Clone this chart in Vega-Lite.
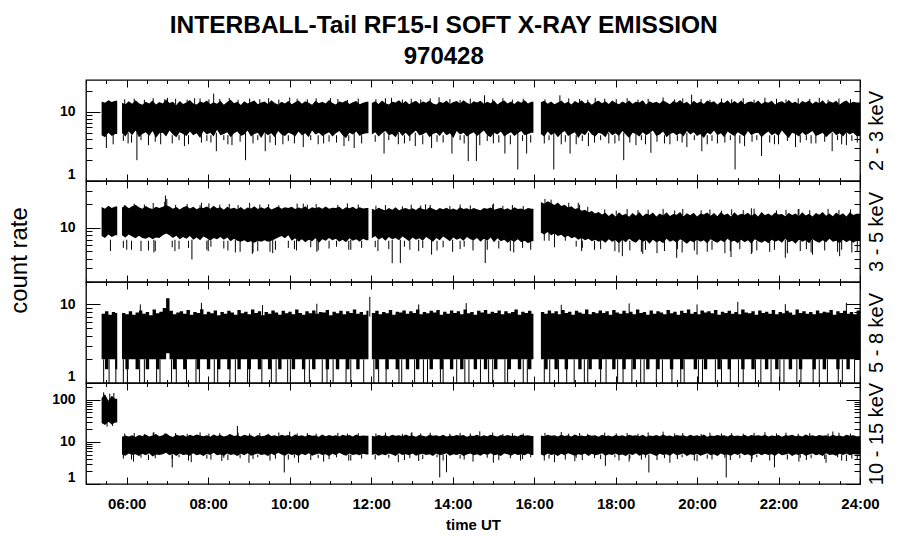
{
"$schema":"https://vega.github.io/schema/vega-lite/v6.json",
"padding":{"left":6,"top":13,"right":10,"bottom":10},
"title":{"text":"INTERBALL-Tail RF15-I SOFT X-RAY EMISSION","subtitle":"970428","font":"Liberation Sans","fontSize":24.5,"fontWeight":"bold","color":"black","subtitleFont":"Liberation Sans","subtitleFontSize":24,"subtitleFontWeight":"bold","subtitleColor":"black","subtitlePadding":6,"anchor":"middle","offset":9,"dx":-3},
"config":{"font":"Liberation Sans","view":{"stroke":"black","strokeWidth":1.3},"axis":{"domain":false,"grid":false,"tickColor":"black","tickWidth":1,"labelColor":"black","titleColor":"black","labelFont":"Liberation Sans","titleFont":"Liberation Sans"}},
"datasets":{
"band":[
{"m":323,"s":0,"a":4.6,"A":14.2,"b":7.8,"B":18.5,"c":2,"C":7.6,"d":28,"D":110},
{"m":328,"s":0,"a":4.3,"A":13.6,"b":7.4,"B":17.6,"c":1.5,"C":8.2,"d":25,"D":135},
{"m":333,"s":0,"a":5.0,"A":14.8,"b":8.2,"B":19.2,"c":2,"C":7.4,"d":30,"D":95},
{"m":338,"s":0,"a":4.5,"A":13.9,"b":7.6,"B":18.0,"c":2,"C":8.0,"d":26,"D":125},
{"m":343,"s":0,"a":4.8,"A":14.5,"b":8.0,"B":18.8,"c":1.5,"C":7.8,"d":29,"D":105},
{"m":346,"s":0,"a":4.8,"A":14.5,"b":8.0,"B":18.8,"c":1.5,"C":7.8,"d":29,"D":105},
{"m":353,"s":1,"a":4.9,"A":13.6,"b":8.0,"B":18.2,"c":2,"C":7.8,"d":5.0,"D":13.2},
{"m":358,"s":1,"a":4.4,"A":12.9,"b":7.5,"B":19.4,"c":1.5,"C":7.5,"d":4.7,"D":14.1},
{"m":363,"s":1,"a":5.2,"A":14.3,"b":8.2,"B":17.8,"c":2,"C":8.2,"d":5.3,"D":13.5},
{"m":368,"s":1,"a":4.6,"A":13.1,"b":7.7,"B":18.9,"c":2,"C":7.4,"d":4.9,"D":14.4},
{"m":373,"s":1,"a":5.4,"A":14.8,"b":7.3,"B":19.8,"c":1.5,"C":7.9,"d":5.1,"D":13.0},
{"m":378,"s":1,"a":4.3,"A":13.4,"b":7.9,"B":18.4,"c":2,"C":8.4,"d":4.6,"D":14.6},
{"m":383,"s":1,"a":4.8,"A":12.7,"b":7.4,"B":17.6,"c":2,"C":7.6,"d":5.2,"D":13.8},
{"m":388,"s":1,"a":5.1,"A":14.0,"b":7.2,"B":19.1,"c":1.5,"C":8.0,"d":4.8,"D":14.9},
{"m":393,"s":1,"a":4.5,"A":13.3,"b":7.6,"B":18.0,"c":2,"C":7.3,"d":5.4,"D":13.4},
{"m":398,"s":1,"a":5.3,"A":14.6,"b":7.1,"B":17.4,"c":2,"C":8.6,"d":4.5,"D":14.2},
{"m":403,"s":1,"a":4.2,"A":12.8,"b":7.5,"B":18.7,"c":1.5,"C":7.7,"d":5.0,"D":15.3},
{"m":408,"s":1,"a":4.9,"A":13.9,"b":7.4,"B":17.9,"c":2,"C":8.1,"d":4.9,"D":13.6},
{"m":413,"s":1,"a":5.0,"A":13.2,"b":8.0,"B":18.6,"c":2,"C":9.0,"d":5.1,"D":14.3},
{"m":418,"s":1,"a":4.4,"A":15.2,"b":8.4,"B":19.5,"c":2.4,"C":12.0,"d":5.5,"D":16.0},
{"m":423,"s":1,"a":5.4,"A":13.5,"b":8.0,"B":18.8,"c":2,"C":8.3,"d":4.8,"D":14.0},
{"m":428,"s":1,"a":4.7,"A":14.1,"b":7.4,"B":17.6,"c":1.5,"C":7.5,"d":5.2,"D":13.1},
{"m":433,"s":1,"a":4.3,"A":12.6,"b":7.9,"B":18.5,"c":2,"C":7.9,"d":4.6,"D":14.7},
{"m":438,"s":1,"a":5.1,"A":14.4,"b":7.1,"B":17.2,"c":2,"C":8.2,"d":5.3,"D":13.9},
{"m":443,"s":1,"a":4.8,"A":13.0,"b":7.6,"B":18.3,"c":1.5,"C":7.6,"d":4.9,"D":14.5},
{"m":448,"s":1,"a":4.5,"A":13.7,"b":7.2,"B":19.0,"c":2,"C":8.5,"d":5.0,"D":13.3},
{"m":453,"s":1,"a":5.2,"A":14.9,"b":7.8,"B":17.7,"c":2,"C":7.4,"d":4.7,"D":14.8},
{"m":458,"s":1,"a":4.6,"A":13.3,"b":7.0,"B":18.6,"c":2,"C":8.0,"d":5.4,"D":13.7},
{"m":463,"s":1,"a":4.9,"A":12.8,"b":7.5,"B":17.3,"c":1.5,"C":7.8,"d":4.8,"D":15.0},
{"m":468,"s":1,"a":4.2,"A":14.2,"b":6.9,"B":18.2,"c":2,"C":8.7,"d":5.1,"D":14.1},
{"m":473,"s":1,"a":5.3,"A":13.6,"b":7.7,"B":17.9,"c":2,"C":7.5,"d":4.6,"D":13.6},
{"m":478,"s":1,"a":4.7,"A":14.7,"b":7.3,"B":18.8,"c":1.5,"C":8.1,"d":5.2,"D":14.4},
{"m":483,"s":1,"a":5.0,"A":12.9,"b":6.8,"B":17.5,"c":2,"C":7.7,"d":4.9,"D":13.2},
{"m":488,"s":1,"a":4.4,"A":13.8,"b":7.4,"B":19.2,"c":2,"C":8.4,"d":5.5,"D":14.9},
{"m":493,"s":1,"a":5.5,"A":13.1,"b":7.1,"B":17.8,"c":1.5,"C":7.3,"d":4.8,"D":13.8},
{"m":498,"s":1,"a":4.6,"A":14.5,"b":7.6,"B":18.4,"c":2,"C":8.0,"d":5.0,"D":14.5},
{"m":503,"s":1,"a":4.8,"A":12.7,"b":7.0,"B":17.1,"c":2,"C":7.6,"d":4.7,"D":13.4},
{"m":508,"s":1,"a":5.1,"A":13.9,"b":7.5,"B":18.7,"c":1.5,"C":8.3,"d":5.3,"D":14.2},
{"m":513,"s":1,"a":4.3,"A":15.0,"b":6.7,"B":17.6,"c":2,"C":7.9,"d":4.9,"D":15.2},
{"m":518,"s":1,"a":4.9,"A":13.4,"b":7.2,"B":18.1,"c":2,"C":7.4,"d":5.1,"D":13.7},
{"m":523,"s":1,"a":5.2,"A":14.1,"b":6.8,"B":17.3,"c":1.5,"C":8.5,"d":4.6,"D":14.3},
{"m":528,"s":1,"a":4.5,"A":12.6,"b":6.6,"B":18.5,"c":2,"C":7.7,"d":5.2,"D":13.5},
{"m":533,"s":1,"a":4.7,"A":14.3,"b":6.9,"B":17.0,"c":2,"C":8.1,"d":4.8,"D":14.8},
{"m":538,"s":1,"a":5.4,"A":13.2,"b":6.5,"B":18.2,"c":1.5,"C":7.5,"d":5.4,"D":13.9},
{"m":543,"s":1,"a":4.4,"A":13.9,"b":6.7,"B":17.7,"c":2,"C":8.6,"d":4.7,"D":14.4},
{"m":548,"s":1,"a":4.8,"A":14.6,"b":6.4,"B":18.9,"c":2,"C":7.8,"d":5.0,"D":13.1},
{"m":553,"s":1,"a":5.0,"A":12.9,"b":6.8,"B":17.4,"c":1.5,"C":8.2,"d":5.3,"D":14.6},
{"m":558,"s":1,"a":4.2,"A":13.7,"b":6.6,"B":18.3,"c":2,"C":7.3,"d":4.9,"D":13.6},
{"m":563,"s":1,"a":5.1,"A":14.2,"b":6.9,"B":17.6,"c":2,"C":8.0,"d":5.1,"D":14.0},
{"m":568,"s":1,"a":4.6,"A":13.0,"b":6.6,"B":18.6,"c":1.5,"C":7.6,"d":4.6,"D":15.1},
{"m":573,"s":1,"a":4.9,"A":14.8,"b":6.8,"B":17.2,"c":2,"C":8.4,"d":5.2,"D":13.8},
{"m":578,"s":1,"a":4.3,"A":13.5,"b":7.1,"B":18.0,"c":2,"C":7.9,"d":4.8,"D":14.3},
{"m":583,"s":1,"a":5.3,"A":12.8,"b":7.5,"B":18.8,"c":1.5,"C":7.4,"d":5.5,"D":13.4},
{"m":588,"s":1,"a":4.7,"A":14.0,"b":7.8,"B":17.5,"c":2,"C":8.3,"d":5.0,"D":14.7},
{"m":593,"s":1,"a":4.5,"A":13.3,"b":7.3,"B":18.4,"c":2,"C":7.7,"d":4.7,"D":13.9},
{"m":598,"s":1,"a":5.0,"A":14.4,"b":8.0,"B":17.9,"c":2,"C":8.1,"d":5.3,"D":14.5},
{"m":603,"s":1,"a":4.8,"A":12.9,"b":6.8,"B":18.6,"c":1.5,"C":7.5,"d":4.9,"D":13.2},
{"m":608,"s":1,"a":4.4,"A":13.8,"b":7.3,"B":17.4,"c":2,"C":8.6,"d":5.1,"D":14.9},
{"m":613,"s":1,"a":5.2,"A":14.7,"b":6.6,"B":18.2,"c":2,"C":7.8,"d":4.6,"D":13.7},
{"m":618,"s":1,"a":4.6,"A":13.1,"b":7.1,"B":17.7,"c":1.5,"C":7.4,"d":5.2,"D":14.4},
{"m":623,"s":1,"a":4.9,"A":14.3,"b":6.5,"B":18.9,"c":2,"C":8.2,"d":4.8,"D":13.5},
{"m":628,"s":1,"a":4.3,"A":13.6,"b":7.0,"B":17.3,"c":2,"C":7.7,"d":5.4,"D":14.8},
{"m":633,"s":1,"a":5.4,"A":12.7,"b":6.7,"B":18.3,"c":1.5,"C":8.4,"d":4.7,"D":13.9},
{"m":638,"s":1,"a":4.7,"A":14.5,"b":7.3,"B":17.8,"c":2,"C":7.6,"d":5.0,"D":14.2},
{"m":643,"s":1,"a":5.0,"A":13.4,"b":6.4,"B":18.5,"c":2,"C":8.0,"d":5.3,"D":13.3},
{"m":648,"s":1,"a":4.5,"A":14.0,"b":7.1,"B":17.5,"c":2,"C":7.9,"d":4.9,"D":15.0},
{"m":653,"s":1,"a":4.8,"A":13.2,"b":6.8,"B":18.8,"c":1.5,"C":8.5,"d":5.1,"D":13.6},
{"m":658,"s":1,"a":5.1,"A":14.9,"b":7.4,"B":17.6,"c":2,"C":7.3,"d":4.6,"D":14.6},
{"m":663,"s":1,"a":4.4,"A":13.5,"b":6.9,"B":18.1,"c":2,"C":8.1,"d":5.2,"D":13.8},
{"m":668,"s":1,"a":4.9,"A":12.8,"b":7.2,"B":17.9,"c":1.5,"C":7.7,"d":4.8,"D":14.3},
{"m":673,"s":1,"a":5.3,"A":14.2,"b":6.6,"B":18.7,"c":2,"C":8.3,"d":5.5,"D":13.4},
{"m":678,"s":1,"a":4.6,"A":13.7,"b":7.0,"B":17.2,"c":2,"C":7.5,"d":5.0,"D":14.7},
{"m":683,"s":1,"a":4.2,"A":14.6,"b":6.5,"B":18.4,"c":1.5,"C":8.2,"d":4.7,"D":13.9},
{"m":688,"s":1,"a":5.0,"A":13.0,"b":7.3,"B":17.8,"c":2,"C":7.8,"d":5.3,"D":14.5},
{"m":693,"s":1,"a":4.7,"A":13.8,"b":6.8,"B":18.6,"c":2,"C":8.6,"d":4.9,"D":13.5},
{"m":698,"s":1,"a":5.2,"A":14.4,"b":7.1,"B":17.4,"c":1.5,"C":7.6,"d":5.1,"D":14.9},
{"m":703,"s":1,"a":4.5,"A":12.9,"b":6.6,"B":18.3,"c":2,"C":8.0,"d":4.8,"D":13.7},
{"m":708,"s":1,"a":4.8,"A":13.6,"b":7.2,"B":17.7,"c":2,"C":7.4,"d":5.2,"D":14.2},
{"m":713,"s":1,"a":4.9,"A":14.1,"b":6.9,"B":18.0,"c":2,"C":8.3,"d":5.0,"D":13.9},
{"m":716,"s":1,"a":4.9,"A":14.1,"b":6.9,"B":18.0,"c":2,"C":8.3,"d":5.0,"D":13.9},
{"m":721,"s":2,"a":4.7,"A":13.5,"b":7.3,"B":17.6,"c":2,"C":7.8,"d":4.9,"D":14.0},
{"m":726,"s":2,"a":5.1,"A":14.3,"b":7.8,"B":16.9,"c":1.5,"C":8.3,"d":5.2,"D":13.4},
{"m":731,"s":2,"a":4.4,"A":13.0,"b":7.0,"B":18.1,"c":2,"C":7.5,"d":4.7,"D":14.6},
{"m":736,"s":2,"a":4.9,"A":14.6,"b":7.5,"B":17.3,"c":2,"C":8.0,"d":5.1,"D":13.8},
{"m":741,"s":2,"a":5.3,"A":13.4,"b":6.8,"B":16.7,"c":1.5,"C":7.7,"d":4.8,"D":14.3},
{"m":746,"s":2,"a":4.6,"A":12.8,"b":7.6,"B":17.9,"c":2,"C":8.5,"d":5.3,"D":13.5},
{"m":751,"s":2,"a":4.8,"A":14.0,"b":7.1,"B":17.1,"c":2,"C":7.4,"d":5.0,"D":14.8},
{"m":756,"s":2,"a":4.3,"A":13.7,"b":7.4,"B":18.3,"c":1.5,"C":8.1,"d":4.6,"D":13.9},
{"m":761,"s":2,"a":5.2,"A":14.8,"b":6.9,"B":16.8,"c":2,"C":7.9,"d":5.4,"D":14.4},
{"m":766,"s":2,"a":4.5,"A":13.2,"b":7.7,"B":17.5,"c":2,"C":8.4,"d":4.9,"D":13.6},
{"m":771,"s":2,"a":5.0,"A":14.4,"b":7.2,"B":18.0,"c":1.5,"C":7.6,"d":5.1,"D":14.9},
{"m":776,"s":2,"a":4.4,"A":12.9,"b":6.7,"B":17.2,"c":2,"C":8.2,"d":4.8,"D":13.7},
{"m":781,"s":2,"a":4.9,"A":13.8,"b":7.5,"B":17.8,"c":2,"C":7.8,"d":5.3,"D":14.2},
{"m":786,"s":2,"a":5.4,"A":14.5,"b":7.0,"B":16.9,"c":1.5,"C":8.6,"d":4.7,"D":13.3},
{"m":791,"s":2,"a":4.6,"A":13.1,"b":7.3,"B":18.2,"c":2,"C":7.5,"d":5.0,"D":14.6},
{"m":796,"s":2,"a":4.7,"A":14.2,"b":6.8,"B":17.4,"c":2,"C":8.0,"d":5.2,"D":14.0},
{"m":801,"s":2,"a":5.1,"A":13.6,"b":7.6,"B":17.0,"c":2,"C":7.7,"d":4.9,"D":13.5},
{"m":806,"s":2,"a":4.3,"A":14.7,"b":7.1,"B":18.4,"c":1.5,"C":8.3,"d":5.1,"D":14.7},
{"m":811,"s":2,"a":4.8,"A":13.3,"b":6.6,"B":17.6,"c":2,"C":7.9,"d":4.6,"D":13.9},
{"m":816,"s":2,"a":5.0,"A":12.8,"b":7.4,"B":16.8,"c":2,"C":8.5,"d":5.3,"D":14.4},
{"m":821,"s":2,"a":4.5,"A":14.1,"b":6.9,"B":17.9,"c":1.5,"C":7.4,"d":4.8,"D":13.6},
{"m":826,"s":2,"a":5.2,"A":13.5,"b":7.7,"B":17.3,"c":2,"C":8.1,"d":5.0,"D":14.8},
{"m":831,"s":2,"a":4.6,"A":14.6,"b":7.2,"B":18.1,"c":2,"C":7.6,"d":5.4,"D":13.4},
{"m":836,"s":2,"a":4.9,"A":13.0,"b":6.7,"B":17.0,"c":1.5,"C":8.4,"d":4.7,"D":14.2},
{"m":841,"s":2,"a":4.2,"A":13.9,"b":7.5,"B":17.7,"c":2,"C":7.8,"d":5.1,"D":13.7},
{"m":846,"s":2,"a":5.3,"A":14.4,"b":7.0,"B":16.9,"c":2,"C":8.2,"d":4.9,"D":14.5},
{"m":851,"s":2,"a":4.7,"A":13.2,"b":7.3,"B":18.3,"c":1.5,"C":7.5,"d":5.2,"D":13.9},
{"m":856,"s":2,"a":5.0,"A":14.8,"b":6.8,"B":17.4,"c":2,"C":8.6,"d":4.6,"D":14.6},
{"m":861,"s":2,"a":4.4,"A":13.6,"b":7.6,"B":17.8,"c":2,"C":7.7,"d":5.0,"D":13.3},
{"m":866,"s":2,"a":4.8,"A":12.9,"b":7.1,"B":17.1,"c":2,"C":8.0,"d":5.3,"D":14.1},
{"m":871,"s":2,"a":5.1,"A":14.3,"b":6.9,"B":18.0,"c":1.5,"C":7.4,"d":4.8,"D":13.8},
{"m":876,"s":2,"a":4.5,"A":13.7,"b":7.4,"B":17.3,"c":2,"C":8.3,"d":5.1,"D":14.7},
{"m":881,"s":2,"a":4.9,"A":14.5,"b":6.6,"B":16.8,"c":2,"C":7.9,"d":4.7,"D":13.5},
{"m":886,"s":2,"a":5.4,"A":13.1,"b":7.2,"B":17.9,"c":1.5,"C":8.5,"d":5.2,"D":14.3},
{"m":891,"s":2,"a":4.6,"A":14.0,"b":6.8,"B":17.5,"c":2,"C":7.6,"d":4.9,"D":13.6},
{"m":896,"s":2,"a":4.3,"A":13.4,"b":7.5,"B":18.2,"c":2,"C":8.1,"d":5.4,"D":14.8},
{"m":901,"s":2,"a":5.0,"A":14.7,"b":6.5,"B":17.0,"c":1.5,"C":7.8,"d":4.8,"D":14.0},
{"m":906,"s":2,"a":4.7,"A":12.8,"b":7.3,"B":17.6,"c":2,"C":8.4,"d":5.0,"D":13.4},
{"m":911,"s":2,"a":5.2,"A":13.9,"b":6.7,"B":18.1,"c":2,"C":7.5,"d":4.6,"D":14.5},
{"m":916,"s":2,"a":4.4,"A":14.6,"b":7.0,"B":17.2,"c":2,"C":8.2,"d":5.3,"D":13.8},
{"m":921,"s":2,"a":4.8,"A":13.3,"b":6.4,"B":17.8,"c":1.5,"C":7.7,"d":5.1,"D":14.6},
{"m":926,"s":2,"a":5.1,"A":14.2,"b":6.9,"B":16.9,"c":2,"C":8.0,"d":4.7,"D":13.7},
{"m":931,"s":2,"a":4.5,"A":13.0,"b":6.6,"B":18.3,"c":2,"C":8.6,"d":5.2,"D":14.2},
{"m":936,"s":2,"a":4.9,"A":14.4,"b":7.1,"B":17.4,"c":1.5,"C":7.4,"d":4.9,"D":13.5},
{"m":941,"s":2,"a":5.3,"A":13.6,"b":6.5,"B":17.7,"c":2,"C":8.1,"d":5.0,"D":14.9},
{"m":946,"s":2,"a":4.6,"A":14.8,"b":6.8,"B":17.1,"c":2,"C":7.8,"d":4.8,"D":13.9},
{"m":951,"s":2,"a":4.8,"A":13.2,"b":6.3,"B":18.0,"c":1.5,"C":8.3,"d":5.3,"D":14.4},
{"m":956,"s":2,"a":5.0,"A":14.0,"b":6.7,"B":17.5,"c":2,"C":7.6,"d":4.9,"D":13.8},
{"m":959,"s":2,"a":5.0,"A":14.0,"b":6.7,"B":17.5,"c":2,"C":7.6,"d":4.9,"D":13.8},
{"m":970,"s":3,"a":4.8,"A":13.8,"b":8.6,"B":21.5,"c":2,"C":8.0,"d":5.0,"D":14.2},
{"m":975,"s":3,"a":4.4,"A":14.5,"b":8.2,"B":20.4,"c":1.5,"C":7.6,"d":4.7,"D":13.6},
{"m":980,"s":3,"a":5.2,"A":13.1,"b":8.8,"B":22.0,"c":2,"C":8.4,"d":5.3,"D":14.8},
{"m":985,"s":3,"a":4.6,"A":14.2,"b":8.0,"B":20.8,"c":2,"C":7.7,"d":4.9,"D":13.9},
{"m":990,"s":3,"a":5.0,"A":12.9,"b":8.4,"B":19.6,"c":1.5,"C":8.2,"d":5.1,"D":14.4},
{"m":995,"s":3,"a":4.3,"A":13.7,"b":7.8,"B":21.2,"c":2,"C":7.5,"d":4.6,"D":13.4},
{"m":1000,"s":3,"a":4.9,"A":14.6,"b":8.1,"B":19.0,"c":2,"C":8.5,"d":5.2,"D":14.7},
{"m":1005,"s":3,"a":5.3,"A":13.3,"b":7.5,"B":19.8,"c":1.5,"C":7.8,"d":4.8,"D":13.8},
{"m":1010,"s":3,"a":4.5,"A":14.0,"b":7.9,"B":18.2,"c":2,"C":8.1,"d":5.4,"D":14.3},
{"m":1015,"s":3,"a":4.8,"A":12.8,"b":7.3,"B":18.9,"c":2,"C":7.4,"d":5.0,"D":13.5},
{"m":1020,"s":3,"a":5.1,"A":14.4,"b":7.6,"B":17.4,"c":2,"C":8.3,"d":4.7,"D":14.9},
{"m":1025,"s":3,"a":4.2,"A":13.5,"b":7.0,"B":17.9,"c":1.5,"C":7.9,"d":5.1,"D":13.7},
{"m":1030,"s":3,"a":4.9,"A":14.8,"b":7.4,"B":16.6,"c":2,"C":7.6,"d":4.9,"D":14.1},
{"m":1035,"s":3,"a":4.6,"A":13.2,"b":6.9,"B":17.1,"c":2,"C":8.6,"d":5.3,"D":13.6},
{"m":1040,"s":3,"a":5.4,"A":14.1,"b":7.2,"B":15.8,"c":1.5,"C":7.5,"d":4.6,"D":14.6},
{"m":1045,"s":3,"a":4.7,"A":12.7,"b":6.7,"B":16.4,"c":2,"C":8.0,"d":5.2,"D":13.9},
{"m":1050,"s":3,"a":4.4,"A":13.9,"b":7.0,"B":15.2,"c":2,"C":7.7,"d":4.8,"D":14.4},
{"m":1055,"s":3,"a":5.0,"A":14.5,"b":6.6,"B":15.9,"c":1.5,"C":8.4,"d":5.0,"D":13.3},
{"m":1060,"s":3,"a":4.8,"A":13.4,"b":6.9,"B":14.8,"c":2,"C":7.8,"d":5.4,"D":14.8},
{"m":1065,"s":3,"a":4.3,"A":14.3,"b":6.4,"B":15.6,"c":2,"C":8.2,"d":4.7,"D":13.7},
{"m":1070,"s":3,"a":5.2,"A":13.0,"b":7.1,"B":14.2,"c":2,"C":7.4,"d":5.1,"D":14.2},
{"m":1075,"s":3,"a":4.6,"A":14.7,"b":6.6,"B":15.4,"c":1.5,"C":8.5,"d":4.9,"D":13.5},
{"m":1080,"s":3,"a":4.9,"A":13.6,"b":6.9,"B":14.0,"c":2,"C":7.9,"d":5.3,"D":14.6},
{"m":1085,"s":3,"a":4.5,"A":12.9,"b":6.3,"B":15.8,"c":2,"C":7.6,"d":4.8,"D":13.8},
{"m":1090,"s":3,"a":5.3,"A":14.2,"b":7.0,"B":14.5,"c":1.5,"C":8.3,"d":5.0,"D":14.3},
{"m":1095,"s":3,"a":4.7,"A":13.4,"b":6.5,"B":15.1,"c":2,"C":7.7,"d":4.6,"D":13.4},
{"m":1100,"s":3,"a":4.2,"A":14.6,"b":7.2,"B":13.9,"c":2,"C":8.1,"d":5.2,"D":14.8},
{"m":1105,"s":3,"a":5.0,"A":13.1,"b":6.7,"B":15.5,"c":1.5,"C":7.5,"d":4.9,"D":13.9},
{"m":1110,"s":3,"a":4.8,"A":14.0,"b":6.4,"B":14.3,"c":2,"C":8.6,"d":5.4,"D":14.4},
{"m":1115,"s":3,"a":4.4,"A":13.7,"b":7.1,"B":15.9,"c":2,"C":7.8,"d":4.7,"D":13.6},
{"m":1120,"s":3,"a":5.1,"A":14.8,"b":6.6,"B":14.1,"c":2,"C":8.0,"d":5.1,"D":14.7},
{"m":1125,"s":3,"a":4.6,"A":12.8,"b":6.9,"B":15.3,"c":1.5,"C":7.4,"d":4.8,"D":13.3},
{"m":1130,"s":3,"a":4.9,"A":14.3,"b":6.2,"B":14.6,"c":2,"C":8.4,"d":5.3,"D":14.1},
{"m":1135,"s":3,"a":5.4,"A":13.5,"b":7.0,"B":15.7,"c":2,"C":7.6,"d":5.0,"D":13.8},
{"m":1140,"s":3,"a":4.5,"A":14.1,"b":6.5,"B":14.0,"c":1.5,"C":8.2,"d":4.6,"D":14.5},
{"m":1145,"s":3,"a":4.7,"A":13.2,"b":6.8,"B":15.2,"c":2,"C":7.9,"d":5.2,"D":13.6},
{"m":1150,"s":3,"a":5.2,"A":14.6,"b":6.3,"B":14.4,"c":2,"C":7.5,"d":4.9,"D":14.9},
{"m":1155,"s":3,"a":4.3,"A":13.8,"b":7.2,"B":15.8,"c":2,"C":8.5,"d":5.1,"D":13.7},
{"m":1160,"s":3,"a":4.8,"A":12.9,"b":6.6,"B":14.2,"c":1.5,"C":7.7,"d":4.7,"D":14.2},
{"m":1165,"s":3,"a":5.0,"A":14.4,"b":6.9,"B":15.0,"c":2,"C":8.1,"d":5.4,"D":13.4},
{"m":1170,"s":3,"a":4.6,"A":13.6,"b":6.4,"B":14.7,"c":2,"C":7.4,"d":4.8,"D":14.6},
{"m":1175,"s":3,"a":4.9,"A":14.9,"b":7.1,"B":15.9,"c":1.5,"C":8.3,"d":5.0,"D":13.9},
{"m":1180,"s":3,"a":4.4,"A":13.3,"b":6.7,"B":14.1,"c":2,"C":7.8,"d":5.3,"D":14.3},
{"m":1185,"s":3,"a":5.3,"A":14.0,"b":6.2,"B":15.4,"c":2,"C":8.6,"d":4.6,"D":13.5},
{"m":1190,"s":3,"a":4.7,"A":12.7,"b":6.8,"B":14.5,"c":2,"C":7.6,"d":5.1,"D":14.8},
{"m":1195,"s":3,"a":5.1,"A":14.5,"b":6.5,"B":15.6,"c":1.5,"C":8.0,"d":4.9,"D":13.8},
{"m":1200,"s":3,"a":4.5,"A":13.4,"b":7.0,"B":14.0,"c":2,"C":7.5,"d":5.2,"D":14.4},
{"m":1205,"s":3,"a":4.8,"A":14.2,"b":6.6,"B":15.2,"c":2,"C":8.4,"d":4.7,"D":13.6},
{"m":1210,"s":3,"a":4.2,"A":13.0,"b":6.9,"B":14.8,"c":1.5,"C":7.9,"d":5.0,"D":14.9},
{"m":1215,"s":3,"a":5.0,"A":14.7,"b":6.3,"B":15.7,"c":2,"C":8.2,"d":5.4,"D":13.3},
{"m":1220,"s":3,"a":4.7,"A":13.7,"b":7.1,"B":14.3,"c":2,"C":7.7,"d":4.8,"D":14.1},
{"m":1225,"s":3,"a":5.4,"A":14.3,"b":6.7,"B":15.5,"c":2,"C":8.5,"d":5.1,"D":13.7},
{"m":1230,"s":3,"a":4.6,"A":12.8,"b":6.4,"B":14.1,"c":1.5,"C":7.4,"d":4.6,"D":14.6},
{"m":1235,"s":3,"a":4.9,"A":14.0,"b":6.9,"B":15.9,"c":2,"C":8.1,"d":5.3,"D":13.9},
{"m":1240,"s":3,"a":4.3,"A":13.5,"b":6.5,"B":14.6,"c":2,"C":7.8,"d":4.9,"D":14.4},
{"m":1245,"s":3,"a":5.2,"A":14.8,"b":7.2,"B":15.3,"c":1.5,"C":8.3,"d":5.0,"D":13.5},
{"m":1250,"s":3,"a":4.8,"A":13.1,"b":6.6,"B":14.0,"c":2,"C":7.6,"d":4.7,"D":14.8},
{"m":1255,"s":3,"a":4.5,"A":14.4,"b":6.8,"B":15.8,"c":2,"C":8.0,"d":5.2,"D":13.8},
{"m":1260,"s":3,"a":5.1,"A":13.3,"b":6.3,"B":14.4,"c":2,"C":7.5,"d":4.9,"D":14.2},
{"m":1265,"s":3,"a":4.7,"A":14.6,"b":7.0,"B":15.1,"c":1.5,"C":8.6,"d":5.4,"D":13.6},
{"m":1270,"s":3,"a":4.4,"A":12.9,"b":6.5,"B":14.7,"c":2,"C":7.9,"d":4.8,"D":14.7},
{"m":1275,"s":3,"a":5.3,"A":13.9,"b":6.9,"B":15.6,"c":2,"C":7.7,"d":5.1,"D":13.4},
{"m":1280,"s":3,"a":4.6,"A":14.2,"b":6.2,"B":14.2,"c":1.5,"C":8.2,"d":4.6,"D":14.5},
{"m":1285,"s":3,"a":4.9,"A":13.4,"b":7.1,"B":15.4,"c":2,"C":7.4,"d":5.0,"D":13.9},
{"m":1290,"s":3,"a":5.0,"A":14.7,"b":6.7,"B":14.0,"c":2,"C":8.4,"d":5.3,"D":14.3},
{"m":1295,"s":3,"a":4.3,"A":13.0,"b":6.4,"B":15.9,"c":2,"C":7.8,"d":4.8,"D":13.7},
{"m":1300,"s":3,"a":4.8,"A":14.1,"b":6.8,"B":14.5,"c":1.5,"C":8.1,"d":5.2,"D":14.8},
{"m":1305,"s":3,"a":5.2,"A":13.6,"b":6.3,"B":15.2,"c":2,"C":7.6,"d":4.9,"D":13.5},
{"m":1310,"s":3,"a":4.6,"A":14.5,"b":7.0,"B":14.3,"c":2,"C":8.5,"d":5.1,"D":14.1},
{"m":1315,"s":3,"a":4.9,"A":12.8,"b":6.6,"B":15.7,"c":1.5,"C":7.5,"d":4.7,"D":13.8},
{"m":1320,"s":3,"a":4.5,"A":13.8,"b":6.9,"B":14.8,"c":2,"C":8.0,"d":5.4,"D":14.6},
{"m":1325,"s":3,"a":5.4,"A":14.3,"b":6.4,"B":15.0,"c":2,"C":7.7,"d":4.8,"D":13.3},
{"m":1330,"s":3,"a":4.7,"A":13.2,"b":7.2,"B":14.1,"c":2,"C":8.3,"d":5.0,"D":14.4},
{"m":1335,"s":3,"a":4.2,"A":14.9,"b":6.5,"B":15.6,"c":1.5,"C":7.9,"d":5.3,"D":13.9},
{"m":1340,"s":3,"a":5.0,"A":13.5,"b":6.8,"B":14.6,"c":2,"C":7.4,"d":4.6,"D":14.7},
{"m":1345,"s":3,"a":4.8,"A":14.0,"b":6.2,"B":15.3,"c":2,"C":8.6,"d":5.1,"D":13.6},
{"m":1350,"s":3,"a":4.4,"A":12.9,"b":7.0,"B":14.2,"c":1.5,"C":7.8,"d":4.9,"D":14.2},
{"m":1355,"s":3,"a":5.1,"A":14.4,"b":6.6,"B":15.8,"c":2,"C":8.2,"d":5.2,"D":13.5},
{"m":1360,"s":3,"a":4.6,"A":13.7,"b":6.9,"B":14.4,"c":2,"C":7.6,"d":4.7,"D":14.9},
{"m":1365,"s":3,"a":4.9,"A":14.6,"b":6.3,"B":15.1,"c":2,"C":8.0,"d":5.0,"D":13.8},
{"m":1370,"s":3,"a":5.3,"A":13.1,"b":7.1,"B":14.0,"c":1.5,"C":7.5,"d":5.3,"D":14.3},
{"m":1375,"s":3,"a":4.5,"A":14.2,"b":6.7,"B":15.5,"c":2,"C":8.4,"d":4.8,"D":13.6},
{"m":1380,"s":3,"a":4.7,"A":13.4,"b":6.4,"B":14.7,"c":2,"C":7.7,"d":5.1,"D":14.6},
{"m":1385,"s":3,"a":5.0,"A":14.8,"b":6.9,"B":15.9,"c":1.5,"C":8.1,"d":4.6,"D":13.9},
{"m":1390,"s":3,"a":4.3,"A":13.0,"b":6.5,"B":14.3,"c":2,"C":7.9,"d":5.4,"D":14.4},
{"m":1395,"s":3,"a":4.8,"A":14.3,"b":7.2,"B":15.2,"c":2,"C":8.5,"d":4.9,"D":13.4},
{"m":1400,"s":3,"a":5.2,"A":13.6,"b":6.6,"B":14.1,"c":2,"C":7.4,"d":5.0,"D":14.7},
{"m":1405,"s":3,"a":4.6,"A":14.5,"b":6.8,"B":15.7,"c":1.5,"C":8.2,"d":4.7,"D":13.7},
{"m":1410,"s":3,"a":4.9,"A":12.8,"b":6.3,"B":14.5,"c":2,"C":7.8,"d":5.2,"D":14.2},
{"m":1415,"s":3,"a":4.4,"A":13.9,"b":7.0,"B":15.4,"c":2,"C":8.3,"d":4.9,"D":13.5},
{"m":1420,"s":3,"a":5.1,"A":14.7,"b":6.5,"B":14.0,"c":1.5,"C":7.6,"d":5.3,"D":14.8},
{"m":1425,"s":3,"a":4.7,"A":13.3,"b":6.9,"B":15.8,"c":2,"C":8.0,"d":4.8,"D":13.9},
{"m":1430,"s":3,"a":5.0,"A":14.1,"b":6.4,"B":14.6,"c":2,"C":7.5,"d":5.1,"D":14.3},
{"m":1435,"s":3,"a":4.5,"A":13.7,"b":6.8,"B":15.1,"c":2,"C":8.4,"d":5.0,"D":13.6},
{"m":1440,"s":3,"a":4.5,"A":13.7,"b":6.8,"B":15.1,"c":2,"C":8.4,"d":5.0,"D":13.6}
],
"ed":[
{"m":355,"a":3.8,"b":5.5,"d":4.0},{"m":367,"a":3.6,"b":5.2,"d":3.8},{"m":381,"a":3.9,"b":5.0,"d":4.2},{"m":392,"a":3.3,"b":5.1,"d":3.7},{"m":402,"a":3.7,"b":5.0,"d":4.1},{"m":427,"a":3.5,"b":5.6,"d":3.9},{"m":437,"a":3.9,"b":5.3,"d":4.3},{"m":451,"a":3.4,"b":5.5,"d":3.6},{"m":478,"a":3.8,"b":5.2,"d":4.0},{"m":484,"a":3.6,"b":5.7,"d":3.8},{"m":503,"a":3.9,"b":5.4,"d":4.2},{"m":509,"a":3.4,"b":5.1,"d":3.7},{"m":527,"a":3.7,"b":4.9,"d":4.1},{"m":546,"a":3.5,"b":4.8,"d":3.9},{"m":553,"a":3.9,"b":5.0,"d":4.3},{"m":571,"a":3.6,"b":4.9,"d":3.6},{"m":579,"a":3.3,"b":5.2,"d":4.0},{"m":598,"a":3.8,"b":5.5,"d":3.8},{"m":607,"a":3.5,"b":5.3,"d":4.2},{"m":631,"a":3.9,"b":5.6,"d":3.7},{"m":642,"a":3.4,"b":5.1,"d":4.1},{"m":658,"a":3.7,"b":5.4,"d":3.9},{"m":669,"a":3.6,"b":5.7,"d":4.3},{"m":687,"a":3.8,"b":5.2,"d":3.6},{"m":706,"a":3.5,"b":5.5,"d":4.0},{"m":726,"a":3.7,"b":5.6,"d":3.8},{"m":746,"a":3.9,"b":5.3,"d":4.2},{"m":769,"a":3.5,"b":5.7,"d":3.7},{"m":777,"a":3.8,"b":5.2,"d":4.1},{"m":796,"a":3.4,"b":5.5,"d":3.9},{"m":817,"a":3.7,"b":5.1,"d":4.3},{"m":826,"a":3.6,"b":5.6,"d":3.6},{"m":851,"a":3.9,"b":5.3,"d":4.0},{"m":857,"a":3.5,"b":5.7,"d":3.8},{"m":891,"a":3.8,"b":5.2,"d":4.2},{"m":908,"a":3.6,"b":5.4,"d":3.7},{"m":925,"a":3.4,"b":5.0,"d":4.1},{"m":943,"a":3.8,"b":5.5,"d":3.9},{"m":955,"a":3.6,"b":5.2,"d":4.3},{"m":975,"a":3.5,"b":9.0,"d":3.6},{"m":982,"a":3.9,"b":9.0,"d":4.0},{"m":1006,"a":3.7,"b":9.0,"d":3.8},{"m":1022,"a":3.4,"b":5.7,"d":4.2},{"m":1031,"a":3.8,"b":5.5,"d":3.7},{"m":1049,"a":3.6,"b":5.2,"d":4.1},{"m":1058,"a":3.9,"b":5.3,"d":3.9},{"m":1079,"a":3.5,"b":5.0,"d":4.3},{"m":1085,"a":3.8,"b":4.8,"d":3.6},{"m":1101,"a":3.6,"b":5.1,"d":4.0},{"m":1118,"a":3.9,"b":4.9,"d":3.8},{"m":1124,"a":3.4,"b":5.2,"d":4.2},{"m":1141,"a":3.7,"b":4.7,"d":3.7},{"m":1152,"a":3.5,"b":5.0,"d":4.1},{"m":1171,"a":3.8,"b":5.3,"d":3.9},{"m":1178,"a":3.6,"b":4.8,"d":4.3},{"m":1196,"a":3.9,"b":5.1,"d":3.6},{"m":1215,"a":3.4,"b":4.9,"d":4.0},{"m":1222,"a":3.8,"b":5.2,"d":3.8},{"m":1241,"a":3.6,"b":4.7,"d":4.2},{"m":1249,"a":3.9,"b":5.0,"d":3.7},{"m":1263,"a":3.5,"b":5.3,"d":4.1},{"m":1281,"a":3.7,"b":4.8,"d":3.9},{"m":1288,"a":3.9,"b":5.1,"d":4.3},{"m":1307,"a":3.6,"b":4.9,"d":3.6},{"m":1314,"a":3.4,"b":5.2,"d":4.0},{"m":1333,"a":3.8,"b":4.7,"d":3.8},{"m":1352,"a":3.6,"b":5.0,"d":4.2},{"m":1361,"a":3.9,"b":5.3,"d":3.7},{"m":1368,"a":3.5,"b":4.8,"d":4.1},{"m":1388,"a":3.7,"b":5.1,"d":3.9},{"m":1407,"a":3.9,"b":4.9,"d":4.3},{"m":1413,"a":3.4,"b":5.2,"d":3.6},{"m":1428,"a":3.8,"b":4.8,"d":4.0},{"m":1436,"a":3.6,"b":5.0,"d":3.8}
],
"eu":[
{"m":357,"a":15.2,"b":19.6,"d":15.8},{"m":371,"a":15.6,"b":20.4,"d":16.3},{"m":386,"a":15.0,"b":19.9,"d":15.5},{"m":399,"a":15.8,"b":20.8,"d":16.6},{"m":416,"a":15.3,"b":21.5,"d":15.9},{"m":432,"a":15.5,"b":19.7,"d":16.2},{"m":449,"a":15.1,"b":20.2,"d":15.6},{"m":468,"a":15.7,"b":19.5,"d":16.8},{"m":481,"a":15.2,"b":20.6,"d":15.7},{"m":497,"a":15.4,"b":19.8,"d":16.1},{"m":511,"a":15.9,"b":20.3,"d":15.4},{"m":524,"a":15.0,"b":19.6,"d":16.5},{"m":541,"a":15.6,"b":20.9,"d":15.8},{"m":556,"a":15.3,"b":19.9,"d":16.3},{"m":569,"a":15.8,"b":20.1,"d":15.5},{"m":584,"a":15.1,"b":19.4,"d":16.7},{"m":611,"a":15.5,"b":20.5,"d":15.9},{"m":626,"a":15.2,"b":19.8,"d":16.2},{"m":639,"a":15.7,"b":20.2,"d":15.6},{"m":671,"a":15.4,"b":19.7,"d":16.4},{"m":685,"a":15.0,"b":20.6,"d":15.7},{"m":701,"a":15.6,"b":19.9,"d":16.1},{"m":727,"a":15.3,"b":19.2,"d":15.8},{"m":741,"a":15.8,"b":19.6,"d":16.6},{"m":766,"a":15.1,"b":18.9,"d":15.5},{"m":779,"a":15.5,"b":19.8,"d":16.2},{"m":793,"a":15.2,"b":19.3,"d":15.9},{"m":807,"a":15.7,"b":19.7,"d":16.5},{"m":836,"a":15.4,"b":19.1,"d":15.6},{"m":851,"a":15.0,"b":19.9,"d":16.3},{"m":866,"a":15.6,"b":19.4,"d":15.8},{"m":899,"a":15.3,"b":19.8,"d":16.7},{"m":914,"a":15.8,"b":19.2,"d":15.4},{"m":928,"a":15.1,"b":19.6,"d":16.1},{"m":944,"a":15.5,"b":19.0,"d":15.9},{"m":976,"a":15.2,"b":23.5,"d":16.4},{"m":1011,"a":15.7,"b":21.0,"d":15.7},{"m":1027,"a":15.4,"b":19.8,"d":16.2},{"m":1039,"a":15.0,"b":18.6,"d":15.5},{"m":1064,"a":15.6,"b":17.2,"d":16.6},{"m":1081,"a":15.3,"b":16.6,"d":15.8},{"m":1097,"a":15.8,"b":17.4,"d":16.3},{"m":1113,"a":15.1,"b":16.9,"d":15.6},{"m":1128,"a":15.5,"b":17.1,"d":16.8},{"m":1167,"a":15.2,"b":16.7,"d":15.9},{"m":1179,"a":15.7,"b":17.5,"d":16.2},{"m":1206,"a":15.4,"b":16.8,"d":15.5},{"m":1219,"a":15.0,"b":17.2,"d":16.5},{"m":1236,"a":15.6,"b":16.6,"d":15.8},{"m":1251,"a":15.3,"b":17.3,"d":16.1},{"m":1268,"a":15.8,"b":16.9,"d":15.7},{"m":1284,"a":15.1,"b":17.6,"d":16.4},{"m":1317,"a":15.5,"b":16.7,"d":15.9},{"m":1331,"a":15.2,"b":17.0,"d":16.6},{"m":1349,"a":15.7,"b":17.4,"d":15.6},{"m":1366,"a":15.4,"b":16.8,"d":16.2},{"m":1393,"a":15.0,"b":17.5,"d":15.8},{"m":1409,"a":15.6,"b":16.9,"d":16.5},{"m":1426,"a":15.3,"b":17.2,"d":15.7}
],
"spk":[
{"m":330,"p":1,"lo":3.0,"hi":5},{"m":340,"p":1,"lo":3.4,"hi":5},{"m":362,"p":1,"lo":3.5,"hi":5},{"m":375,"p":1,"lo":2.0,"hi":5},{"m":410,"p":1,"lo":3.4,"hi":5},{"m":445,"p":1,"lo":3.2,"hi":5},{"m":470,"p":1,"lo":3.6,"hi":5},{"m":492,"p":1,"lo":2.7,"hi":5},{"m":515,"p":1,"lo":3.3,"hi":5},{"m":535,"p":1,"lo":2.0,"hi":5},{"m":564,"p":1,"lo":2.7,"hi":5},{"m":590,"p":1,"lo":3.4,"hi":5},{"m":620,"p":1,"lo":3.1,"hi":5},{"m":650,"p":1,"lo":3.5,"hi":5},{"m":680,"p":1,"lo":3.2,"hi":5},{"m":695,"p":1,"lo":3.0,"hi":5},{"m":739,"p":1,"lo":2.5,"hi":5},{"m":760,"p":1,"lo":3.4,"hi":5},{"m":785,"p":1,"lo":3.2,"hi":5},{"m":809,"p":1,"lo":3.0,"hi":5},{"m":839,"p":1,"lo":2.5,"hi":5},{"m":863,"p":1,"lo":1.94,"hi":5},{"m":875,"p":1,"lo":1.94,"hi":5},{"m":880,"p":1,"lo":3.3,"hi":5},{"m":900,"p":1,"lo":3.5,"hi":5},{"m":917,"p":1,"lo":2.5,"hi":5},{"m":936,"p":1,"lo":1.47,"hi":5},{"m":949,"p":1,"lo":2.5,"hi":5},{"m":989,"p":1,"lo":1.47,"hi":5},{"m":1000,"p":1,"lo":3.4,"hi":5},{"m":1013,"p":1,"lo":2.5,"hi":5},{"m":1040,"p":1,"lo":3.2,"hi":5},{"m":1070,"p":1,"lo":3.5,"hi":5},{"m":1092,"p":1,"lo":2.0,"hi":5},{"m":1110,"p":1,"lo":3.3,"hi":5},{"m":1132,"p":1,"lo":2.56,"hi":5},{"m":1160,"p":1,"lo":3.4,"hi":5},{"m":1185,"p":1,"lo":3.1,"hi":5},{"m":1207,"p":1,"lo":2.7,"hi":5},{"m":1230,"p":1,"lo":3.5,"hi":5},{"m":1256,"p":1,"lo":1.47,"hi":5},{"m":1270,"p":1,"lo":3.2,"hi":5},{"m":1295,"p":1,"lo":2.3,"hi":5},{"m":1320,"p":1,"lo":3.4,"hi":5},{"m":1345,"p":1,"lo":3.1,"hi":5},{"m":1375,"p":1,"lo":3.5,"hi":5},{"m":1399,"p":1,"lo":2.7,"hi":5},{"m":1420,"p":1,"lo":3.3,"hi":5},
{"m":420,"p":1,"lo":12,"hi":16},{"m":460,"p":1,"lo":12,"hi":15.8},{"m":488,"p":1,"lo":12,"hi":18.4},{"m":600,"p":1,"lo":12,"hi":16.2},{"m":660,"p":1,"lo":12,"hi":15.9},{"m":750,"p":1,"lo":12,"hi":16},{"m":820,"p":1,"lo":12,"hi":16.3},{"m":887,"p":1,"lo":12,"hi":17.4},{"m":998,"p":1,"lo":12,"hi":17.4},{"m":1050,"p":1,"lo":12,"hi":16},{"m":1150,"p":1,"lo":12,"hi":16.2},{"m":1192,"p":1,"lo":12,"hi":17.8},{"m":1300,"p":1,"lo":12,"hi":16.1},{"m":1380,"p":1,"lo":12,"hi":16},
{"m":336,"p":2,"lo":5.0,"hi":7},{"m":360,"p":2,"lo":5.2,"hi":7},{"m":400,"p":2,"lo":4.8,"hi":7},{"m":431,"p":2,"lo":5.0,"hi":7},{"m":456,"p":2,"lo":3.9,"hi":7},{"m":480,"p":2,"lo":5.0,"hi":7},{"m":520,"p":2,"lo":4.8,"hi":7},{"m":545,"p":2,"lo":4.6,"hi":7},{"m":575,"p":2,"lo":4.7,"hi":7},{"m":610,"p":2,"lo":5.1,"hi":7},{"m":640,"p":2,"lo":4.9,"hi":7},{"m":690,"p":2,"lo":5.2,"hi":7},{"m":730,"p":2,"lo":5.0,"hi":7},{"m":751,"p":2,"lo":3.5,"hi":7},{"m":763,"p":2,"lo":3.5,"hi":7},{"m":790,"p":2,"lo":5.0,"hi":7},{"m":809,"p":2,"lo":4.5,"hi":7},{"m":840,"p":2,"lo":4.9,"hi":7},{"m":870,"p":2,"lo":5.1,"hi":7},{"m":888,"p":2,"lo":3.5,"hi":7},{"m":930,"p":2,"lo":4.8,"hi":7},{"m":990,"p":2,"lo":5.6,"hi":8.5},{"m":1030,"p":2,"lo":5.0,"hi":7.5},{"m":1090,"p":2,"lo":4.3,"hi":7},{"m":1120,"p":2,"lo":4.6,"hi":7},{"m":1170,"p":2,"lo":4.1,"hi":7},{"m":1200,"p":2,"lo":4.5,"hi":7},{"m":1250,"p":2,"lo":4.2,"hi":7},{"m":1280,"p":2,"lo":4.6,"hi":7},{"m":1330,"p":2,"lo":4.1,"hi":7},{"m":1370,"p":2,"lo":4.5,"hi":7},{"m":1410,"p":2,"lo":4.3,"hi":7},
{"m":417,"p":2,"lo":15,"hi":26},{"m":419,"p":2,"lo":15,"hi":23.5},{"m":470,"p":2,"lo":15,"hi":21},{"m":620,"p":2,"lo":15,"hi":20.5},{"m":800,"p":2,"lo":15,"hi":20},{"m":900,"p":2,"lo":15,"hi":20.5},{"m":985,"p":2,"lo":15,"hi":23},{"m":1025,"p":2,"lo":15,"hi":21},{"m":1150,"p":2,"lo":13,"hi":17.5},{"m":1280,"p":2,"lo":13,"hi":17.8},{"m":1350,"p":2,"lo":13,"hi":17.5},
{"m":326,"p":3,"lo":1,"hi":2},{"m":334,"p":3,"lo":1,"hi":2},{"m":344,"p":3,"lo":1,"hi":2},{"m":355,"p":3,"lo":1,"hi":2},{"m":361,"p":3,"lo":1,"hi":2},{"m":379,"p":3,"lo":1,"hi":2},{"m":386,"p":3,"lo":1,"hi":2},{"m":404,"p":3,"lo":1,"hi":2},{"m":409,"p":3,"lo":1,"hi":2},{"m":426,"p":3,"lo":1,"hi":2},{"m":433,"p":3,"lo":1,"hi":2},{"m":448,"p":3,"lo":1,"hi":2},{"m":462,"p":3,"lo":1,"hi":2},{"m":467,"p":3,"lo":1,"hi":2},{"m":489,"p":3,"lo":1,"hi":2},{"m":494,"p":3,"lo":1,"hi":2},{"m":512,"p":3,"lo":1,"hi":2},{"m":520,"p":3,"lo":1,"hi":2},{"m":538,"p":3,"lo":1,"hi":2},{"m":541,"p":3,"lo":1,"hi":2},{"m":559,"p":3,"lo":1,"hi":2},{"m":573,"p":3,"lo":1,"hi":2},{"m":580,"p":3,"lo":1,"hi":2},{"m":597,"p":3,"lo":1,"hi":2},{"m":601,"p":3,"lo":1,"hi":2},{"m":622,"p":3,"lo":1,"hi":2},{"m":629,"p":3,"lo":1,"hi":2},{"m":648,"p":3,"lo":1,"hi":2},{"m":655,"p":3,"lo":1,"hi":2},{"m":664,"p":3,"lo":1,"hi":2},{"m":683,"p":3,"lo":1,"hi":2},{"m":690,"p":3,"lo":1,"hi":2},{"m":709,"p":3,"lo":1,"hi":2},{"m":724,"p":3,"lo":1,"hi":2},{"m":731,"p":3,"lo":1,"hi":2},{"m":742,"p":3,"lo":1,"hi":2},{"m":761,"p":3,"lo":1,"hi":2},{"m":765,"p":3,"lo":1,"hi":2},{"m":784,"p":3,"lo":1,"hi":2},{"m":797,"p":3,"lo":1,"hi":2},{"m":803,"p":3,"lo":1,"hi":2},{"m":822,"p":3,"lo":1,"hi":2},{"m":826,"p":3,"lo":1,"hi":2},{"m":846,"p":3,"lo":1,"hi":2},{"m":858,"p":3,"lo":1,"hi":2},{"m":864,"p":3,"lo":1,"hi":2},{"m":881,"p":3,"lo":1,"hi":2},{"m":893,"p":3,"lo":1,"hi":2},{"m":899,"p":3,"lo":1,"hi":2},{"m":917,"p":3,"lo":1,"hi":2},{"m":921,"p":3,"lo":1,"hi":2},{"m":944,"p":3,"lo":1,"hi":2},{"m":950,"p":3,"lo":1,"hi":2},{"m":975,"p":3,"lo":1,"hi":2},{"m":983,"p":3,"lo":1,"hi":2},{"m":996,"p":3,"lo":1,"hi":2},{"m":1008,"p":3,"lo":1,"hi":2},{"m":1019,"p":3,"lo":1,"hi":2},{"m":1034,"p":3,"lo":1,"hi":2},{"m":1039,"p":3,"lo":1,"hi":2},{"m":1058,"p":3,"lo":1,"hi":2},{"m":1066,"p":3,"lo":1,"hi":2},{"m":1083,"p":3,"lo":1,"hi":2},{"m":1091,"p":3,"lo":1,"hi":2},{"m":1104,"p":3,"lo":1,"hi":2},{"m":1117,"p":3,"lo":1,"hi":2},{"m":1122,"p":3,"lo":1,"hi":2},{"m":1140,"p":3,"lo":1,"hi":2},{"m":1149,"p":3,"lo":1,"hi":2},{"m":1163,"p":3,"lo":1,"hi":2},{"m":1176,"p":3,"lo":1,"hi":2},{"m":1181,"p":3,"lo":1,"hi":2},{"m":1202,"p":3,"lo":1,"hi":2},{"m":1208,"p":3,"lo":1,"hi":2},{"m":1227,"p":3,"lo":1,"hi":2},{"m":1236,"p":3,"lo":1,"hi":2},{"m":1249,"p":3,"lo":1,"hi":2},{"m":1261,"p":3,"lo":1,"hi":2},{"m":1268,"p":3,"lo":1,"hi":2},{"m":1286,"p":3,"lo":1,"hi":2},{"m":1294,"p":3,"lo":1,"hi":2},{"m":1309,"p":3,"lo":1,"hi":2},{"m":1322,"p":3,"lo":1,"hi":2},{"m":1328,"p":3,"lo":1,"hi":2},{"m":1347,"p":3,"lo":1,"hi":2},{"m":1353,"p":3,"lo":1,"hi":2},{"m":1371,"p":3,"lo":1,"hi":2},{"m":1380,"p":3,"lo":1,"hi":2},{"m":1392,"p":3,"lo":1,"hi":2},{"m":1408,"p":3,"lo":1,"hi":2},{"m":1414,"p":3,"lo":1,"hi":2},{"m":1432,"p":3,"lo":1,"hi":2},
{"m":380,"p":3,"lo":7,"hi":10},{"m":470,"p":3,"lo":7,"hi":10.5},{"m":560,"p":3,"lo":7,"hi":9.8},{"m":640,"p":3,"lo":7,"hi":10.2},{"m":718,"p":3,"lo":7,"hi":12.5},{"m":790,"p":3,"lo":7,"hi":10},{"m":860,"p":3,"lo":7,"hi":10.4},{"m":1000,"p":3,"lo":7,"hi":9.9},{"m":1100,"p":3,"lo":7,"hi":10.3},{"m":1200,"p":3,"lo":7,"hi":10},{"m":1260,"p":3,"lo":7,"hi":10.8},{"m":1330,"p":3,"lo":7,"hi":10.1},{"m":1420,"p":3,"lo":7,"hi":10.5},
{"m":326,"p":4,"lo":60,"hi":150},{"m":335,"p":4,"lo":60,"hi":140},{"m":341,"p":4,"lo":60,"hi":145},{"m":331,"p":4,"lo":23,"hi":40},{"m":339,"p":4,"lo":24,"hi":40},
{"m":370,"p":4,"lo":3.4,"hi":5},{"m":427,"p":4,"lo":2.47,"hi":5},{"m":455,"p":4,"lo":3.3,"hi":5},{"m":500,"p":4,"lo":3.5,"hi":5},{"m":540,"p":4,"lo":3.2,"hi":5},{"m":592,"p":4,"lo":1.88,"hi":5},{"m":613,"p":4,"lo":3.2,"hi":5},{"m":650,"p":4,"lo":3.4,"hi":5},{"m":690,"p":4,"lo":3.6,"hi":5},{"m":760,"p":4,"lo":3.3,"hi":5},{"m":790,"p":4,"lo":3.5,"hi":5},{"m":821,"p":4,"lo":1.43,"hi":5},{"m":831,"p":4,"lo":1.9,"hi":5},{"m":870,"p":4,"lo":3.4,"hi":5},{"m":900,"p":4,"lo":3.2,"hi":5},{"m":940,"p":4,"lo":3.6,"hi":5},{"m":990,"p":4,"lo":3.3,"hi":5},{"m":1020,"p":4,"lo":3.5,"hi":5},{"m":1065,"p":4,"lo":2.7,"hi":5},{"m":1100,"p":4,"lo":3.4,"hi":5},{"m":1129,"p":4,"lo":1.88,"hi":5},{"m":1160,"p":4,"lo":3.2,"hi":5},{"m":1200,"p":4,"lo":3.5,"hi":5},{"m":1243,"p":4,"lo":1.43,"hi":5},{"m":1280,"p":4,"lo":3.3,"hi":5},{"m":1314,"p":4,"lo":2.47,"hi":5},{"m":1350,"p":4,"lo":3.4,"hi":5},{"m":1390,"p":4,"lo":3.2,"hi":5},{"m":1420,"p":4,"lo":3.5,"hi":5},
{"m":400,"p":4,"lo":12,"hi":17},{"m":523,"p":4,"lo":12,"hi":23.9},{"m":600,"p":4,"lo":12,"hi":17.5},{"m":780,"p":4,"lo":12,"hi":17},{"m":880,"p":4,"lo":12,"hi":17.8},{"m":1000,"p":4,"lo":12,"hi":17.2},{"m":1150,"p":4,"lo":12,"hi":17.5},{"m":1300,"p":4,"lo":12,"hi":17},{"m":1400,"p":4,"lo":12,"hi":17.6}
]
},
"spacing":0,
"bounds":"flush",
"vconcat":[
{"width":774,"height":101,
 "layer":[
  {"data":{"name":"band"},"mark":{"type":"area","interpolate":"linear","color":"black","clip":true},
   "encoding":{
    "x":{"field":"m","type":"quantitative","scale":{"domain":[300,1440],"nice":false,"zero":false},"axis":{"orient":"bottom","values":[300,330,360,390,420,450,480,510,540,570,600,630,660,690,720,750,780,810,840,870,900,930,960,990,1020,1050,1080,1110,1140,1170,1200,1230,1260,1290,1320,1350,1380,1410,1440],"labels":false,"title":null,"tickSize":{"condition":{"test":"datum.value % 120 == 0","value":-7},"value":-3.5}}},
    "y":{"field":"a","type":"quantitative","scale":{"type":"log","domain":[1,29],"nice":false},"axis":{"orient":"left","values":[1,2,3,4,5,6,7,8,9,10,20],"labelExpr":"(datum.value == 1 || datum.value == 10 || datum.value == 100) ? datum.value + '' : ''","labelFontSize":14,"labelFontWeight":"bold","labelPadding":25,"labelFlush":true,"labelOverlap":false,"title":null,"tickSize":{"condition":{"test":"datum.value == 1 || datum.value == 10 || datum.value == 100","value":-14},"value":-6}}},
    "y2":{"field":"A"},
    "detail":{"field":"s","type":"nominal"}}},
  {"data":{"name":"spk"},"transform":[{"filter":"datum.p == 1"}],"mark":{"type":"rule","color":"black","strokeWidth":1,"clip":true},
   "encoding":{
    "x":{"field":"m","type":"quantitative","scale":{"domain":[300,1440],"nice":false,"zero":false},"axis":{"orient":"top","values":[300,330,360,390,420,450,480,510,540,570,600,630,660,690,720,750,780,810,840,870,900,930,960,990,1020,1050,1080,1110,1140,1170,1200,1230,1260,1290,1320,1350,1380,1410,1440],"labels":false,"title":null,"tickSize":{"condition":{"test":"datum.value % 120 == 0","value":-7},"value":-3.5}}},
    "y":{"field":"lo","type":"quantitative","scale":{"type":"log","domain":[1,29],"nice":false},"axis":{"orient":"right","values":[1,2,3,4,5,6,7,8,9,10,20],"labels":false,"title":"2 - 3 keV","titleAngle":270,"titleX":22.5,"titleY":50.5,"titleAlign":"center","titleBaseline":"alphabetic","titleFontSize":20,"titleFontWeight":"normal","tickSize":{"condition":{"test":"datum.value == 1 || datum.value == 10 || datum.value == 100","value":-14},"value":-6}}},
    "y2":{"field":"hi"}}},
  {"data":{"name":"ed"},"mark":{"type":"rule","color":"black","strokeWidth":1,"clip":true},
   "encoding":{"x":{"field":"m","type":"quantitative","scale":{"domain":[300,1440],"nice":false,"zero":false},"axis":null},"y":{"field":"a","type":"quantitative","scale":{"type":"log","domain":[1,29],"nice":false},"axis":null},"y2":{"datum":4.6}}},
  {"data":{"name":"eu"},"mark":{"type":"rule","color":"black","strokeWidth":1,"clip":true},
   "encoding":{"x":{"field":"m","type":"quantitative","scale":{"domain":[300,1440],"nice":false,"zero":false},"axis":null},"y":{"field":"a","type":"quantitative","scale":{"type":"log","domain":[1,29],"nice":false},"axis":null},"y2":{"datum":13}}}
 ],
 "resolve":{"axis":{"x":"independent","y":"independent"}}},
{"width":774,"height":101,
 "layer":[
  {"data":{"name":"band"},"mark":{"type":"area","interpolate":"linear","color":"black","clip":true},
   "encoding":{
    "x":{"field":"m","type":"quantitative","scale":{"domain":[300,1440],"nice":false,"zero":false},"axis":{"orient":"bottom","values":[300,330,360,390,420,450,480,510,540,570,600,630,660,690,720,750,780,810,840,870,900,930,960,990,1020,1050,1080,1110,1140,1170,1200,1230,1260,1290,1320,1350,1380,1410,1440],"labels":false,"title":null,"tickSize":{"condition":{"test":"datum.value % 120 == 0","value":-7},"value":-3.5}}},
    "y":{"field":"b","type":"quantitative","scale":{"type":"log","domain":[2,40],"nice":false},"axis":{"orient":"left","values":[2,3,4,5,6,7,8,9,10,20,30,40],"labelExpr":"(datum.value == 1 || datum.value == 10 || datum.value == 100) ? datum.value + '' : ''","labelFontSize":14,"labelFontWeight":"bold","labelPadding":25,"labelFlush":true,"labelOverlap":false,"title":"count rate","titleAngle":270,"titleX":-60,"titleY":79,"titleAlign":"center","titleBaseline":"alphabetic","titleFontSize":24,"titleFontWeight":"normal","tickSize":{"condition":{"test":"datum.value == 1 || datum.value == 10 || datum.value == 100","value":-14},"value":-6}}},
    "y2":{"field":"B"},
    "detail":{"field":"s","type":"nominal"}}},
  {"data":{"name":"spk"},"transform":[{"filter":"datum.p == 2"}],"mark":{"type":"rule","color":"black","strokeWidth":1,"clip":true},
   "encoding":{
    "x":{"field":"m","type":"quantitative","scale":{"domain":[300,1440],"nice":false,"zero":false},"axis":{"orient":"top","values":[300,330,360,390,420,450,480,510,540,570,600,630,660,690,720,750,780,810,840,870,900,930,960,990,1020,1050,1080,1110,1140,1170,1200,1230,1260,1290,1320,1350,1380,1410,1440],"labels":false,"title":null,"tickSize":{"condition":{"test":"datum.value % 120 == 0","value":-7},"value":-3.5}}},
    "y":{"field":"lo","type":"quantitative","scale":{"type":"log","domain":[2,40],"nice":false},"axis":{"orient":"right","values":[2,3,4,5,6,7,8,9,10,20,30,40],"labels":false,"title":"3 - 5 keV","titleAngle":270,"titleX":22.5,"titleY":50.5,"titleAlign":"center","titleBaseline":"alphabetic","titleFontSize":20,"titleFontWeight":"normal","tickSize":{"condition":{"test":"datum.value == 1 || datum.value == 10 || datum.value == 100","value":-14},"value":-6}}},
    "y2":{"field":"hi"}}},
  {"data":{"name":"ed"},"mark":{"type":"rule","color":"black","strokeWidth":1,"clip":true},
   "encoding":{"x":{"field":"m","type":"quantitative","scale":{"domain":[300,1440],"nice":false,"zero":false},"axis":null},"y":{"field":"b","type":"quantitative","scale":{"type":"log","domain":[2,40],"nice":false},"axis":null},"y2":{"datum":6.8}}},
  {"data":{"name":"eu"},"mark":{"type":"rule","color":"black","strokeWidth":1,"clip":true},
   "encoding":{"x":{"field":"m","type":"quantitative","scale":{"domain":[300,1440],"nice":false,"zero":false},"axis":null},"y":{"field":"b","type":"quantitative","scale":{"type":"log","domain":[2,40],"nice":false},"axis":null},"y2":{"datum":14.5}}}
 ],
 "resolve":{"axis":{"x":"independent","y":"independent"}}},
{"width":774,"height":101,
 "layer":[
  {"data":{"name":"band"},"mark":{"type":"area","interpolate":"step-after","color":"black","clip":true},
   "encoding":{
    "x":{"field":"m","type":"quantitative","scale":{"domain":[300,1440],"nice":false,"zero":false},"axis":{"orient":"bottom","values":[300,330,360,390,420,450,480,510,540,570,600,630,660,690,720,750,780,810,840,870,900,930,960,990,1020,1050,1080,1110,1140,1170,1200,1230,1260,1290,1320,1350,1380,1410,1440],"labels":false,"title":null,"tickSize":{"condition":{"test":"datum.value % 120 == 0","value":-7},"value":-3.5}}},
    "y":{"field":"c","type":"quantitative","scale":{"type":"log","domain":[1,19.3],"nice":false},"axis":{"orient":"left","values":[1,2,3,4,5,6,7,8,9,10],"labelExpr":"(datum.value == 1 || datum.value == 10 || datum.value == 100) ? datum.value + '' : ''","labelFontSize":14,"labelFontWeight":"bold","labelPadding":25,"labelFlush":true,"labelOverlap":false,"title":null,"tickSize":{"condition":{"test":"datum.value == 1 || datum.value == 10 || datum.value == 100","value":-14},"value":-6}}},
    "y2":{"field":"C"},
    "detail":{"field":"s","type":"nominal"}}},
  {"data":{"name":"spk"},"transform":[{"filter":"datum.p == 3"}],"mark":{"type":"rule","color":"black","strokeWidth":1,"clip":true},
   "encoding":{
    "x":{"field":"m","type":"quantitative","scale":{"domain":[300,1440],"nice":false,"zero":false},"axis":{"orient":"top","values":[300,330,360,390,420,450,480,510,540,570,600,630,660,690,720,750,780,810,840,870,900,930,960,990,1020,1050,1080,1110,1140,1170,1200,1230,1260,1290,1320,1350,1380,1410,1440],"labels":false,"title":null,"tickSize":{"condition":{"test":"datum.value % 120 == 0","value":-7},"value":-3.5}}},
    "y":{"field":"lo","type":"quantitative","scale":{"type":"log","domain":[1,19.3],"nice":false},"axis":{"orient":"right","values":[1,2,3,4,5,6,7,8,9,10],"labels":false,"title":"5 - 8 keV","titleAngle":270,"titleX":22.5,"titleY":50.5,"titleAlign":"center","titleBaseline":"alphabetic","titleFontSize":20,"titleFontWeight":"normal","tickSize":{"condition":{"test":"datum.value == 1 || datum.value == 10 || datum.value == 100","value":-14},"value":-6}}},
    "y2":{"field":"hi"}}}
 ],
 "resolve":{"axis":{"x":"independent","y":"independent"}}},
{"width":774,"height":101,
 "layer":[
  {"data":{"name":"band"},"mark":{"type":"area","interpolate":"linear","color":"black","clip":true},
   "encoding":{
    "x":{"field":"m","type":"quantitative","scale":{"domain":[300,1440],"nice":false,"zero":false},"axis":{"orient":"bottom","values":[300,330,360,390,420,450,480,510,540,570,600,630,660,690,720,750,780,810,840,870,900,930,960,990,1020,1050,1080,1110,1140,1170,1200,1230,1260,1290,1320,1350,1380,1410,1440],"labelExpr":"datum.value % 120 == 0 ? (datum.value < 600 ? '0' : '') + (datum.value / 60) + ':00' : ''","labelFontSize":15,"labelFontWeight":"bold","labelPadding":19,"labelFlush":false,"labelOverlap":false,"title":"time UT","titleFontSize":15,"titleFontWeight":"bold","titlePadding":3,"tickSize":{"condition":{"test":"datum.value % 120 == 0","value":-7},"value":-3.5}}},
    "y":{"field":"d","type":"quantitative","scale":{"type":"log","domain":[1,250],"nice":false},"axis":{"orient":"left","values":[1,2,3,4,5,6,7,8,9,10,20,30,40,50,60,70,80,90,100,200],"labelExpr":"(datum.value == 1 || datum.value == 10 || datum.value == 100) ? datum.value + '' : ''","labelFontSize":14,"labelFontWeight":"bold","labelPadding":25,"labelFlush":true,"labelOverlap":false,"title":null,"tickSize":{"condition":{"test":"datum.value == 1 || datum.value == 10 || datum.value == 100","value":-14},"value":-6}}},
    "y2":{"field":"D"},
    "detail":{"field":"s","type":"nominal"}}},
  {"data":{"name":"spk"},"transform":[{"filter":"datum.p == 4"}],"mark":{"type":"rule","color":"black","strokeWidth":1,"clip":true},
   "encoding":{
    "x":{"field":"m","type":"quantitative","scale":{"domain":[300,1440],"nice":false,"zero":false},"axis":{"orient":"top","values":[300,330,360,390,420,450,480,510,540,570,600,630,660,690,720,750,780,810,840,870,900,930,960,990,1020,1050,1080,1110,1140,1170,1200,1230,1260,1290,1320,1350,1380,1410,1440],"labels":false,"title":null,"tickSize":{"condition":{"test":"datum.value % 120 == 0","value":-7},"value":-3.5}}},
    "y":{"field":"lo","type":"quantitative","scale":{"type":"log","domain":[1,250],"nice":false},"axis":{"orient":"right","values":[1,2,3,4,5,6,7,8,9,10,20,30,40,50,60,70,80,90,100,200],"labels":false,"title":"10 - 15 keV","titleAngle":270,"titleX":22.5,"titleY":50.5,"titleAlign":"center","titleBaseline":"alphabetic","titleFontSize":20,"titleFontWeight":"normal","tickSize":{"condition":{"test":"datum.value == 1 || datum.value == 10 || datum.value == 100","value":-14},"value":-6}}},
    "y2":{"field":"hi"}}},
  {"data":{"name":"ed"},"mark":{"type":"rule","color":"black","strokeWidth":1,"clip":true},
   "encoding":{"x":{"field":"m","type":"quantitative","scale":{"domain":[300,1440],"nice":false,"zero":false},"axis":null},"y":{"field":"d","type":"quantitative","scale":{"type":"log","domain":[1,250],"nice":false},"axis":null},"y2":{"datum":5}}},
  {"data":{"name":"eu"},"mark":{"type":"rule","color":"black","strokeWidth":1,"clip":true},
   "encoding":{"x":{"field":"m","type":"quantitative","scale":{"domain":[300,1440],"nice":false,"zero":false},"axis":null},"y":{"field":"d","type":"quantitative","scale":{"type":"log","domain":[1,250],"nice":false},"axis":null},"y2":{"datum":13}}}
 ],
 "resolve":{"axis":{"x":"independent","y":"independent"}}}
]
}
